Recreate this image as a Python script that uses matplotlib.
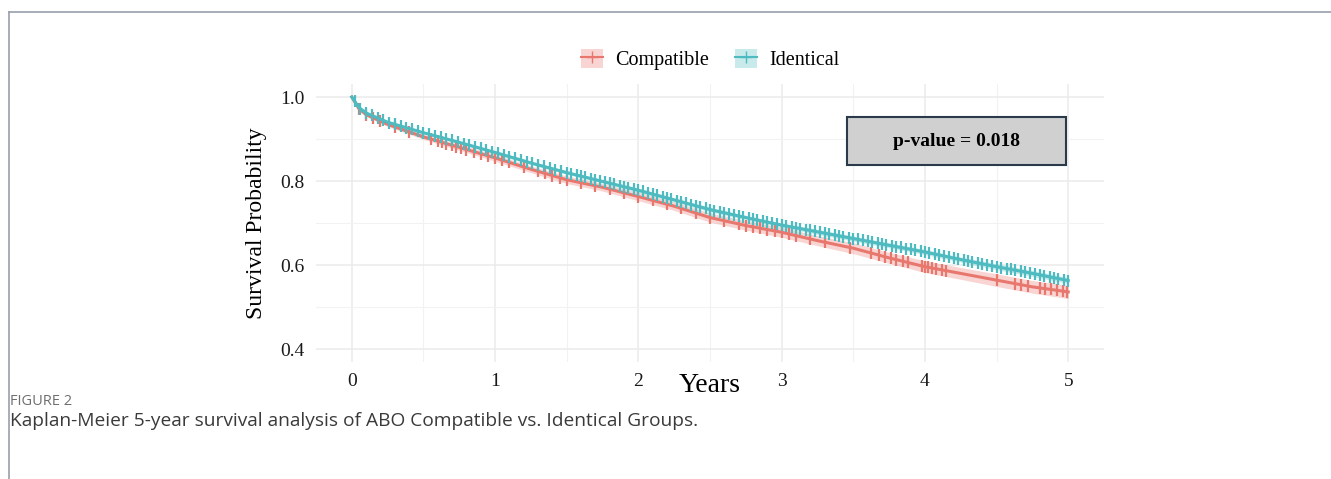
import matplotlib.pyplot as plt
import numpy as np
from matplotlib.lines import Line2D
from matplotlib.patches import Rectangle, Patch

# Kaplan-Meier kurvės (nuskaityta nuo paveikslo)
times = [0, 0.05, 0.1, 0.25, 0.5, 0.75, 1, 1.25, 1.5, 1.75, 2, 2.25, 2.5,
         2.75, 3, 3.25, 3.5, 3.75, 4, 4.25, 4.5, 4.75, 5]
identical = [1.0, 0.975, 0.962, 0.940, 0.915, 0.892, 0.868, 0.843, 0.820,
             0.799, 0.778, 0.755, 0.732, 0.713, 0.695, 0.679, 0.663, 0.647,
             0.631, 0.613, 0.596, 0.580, 0.563]
compatible = [1.0, 0.972, 0.958, 0.935, 0.905, 0.880, 0.855, 0.828, 0.803,
              0.785, 0.763, 0.740, 0.713, 0.694, 0.678, 0.658, 0.640, 0.617,
              0.596, 0.580, 0.564, 0.548, 0.536]
identical_ci = [0, 0.002, 0.002, 0.003, 0.003, 0.003, 0.004, 0.004, 0.004,
                0.004, 0.005, 0.005, 0.005, 0.005, 0.005, 0.006, 0.006, 0.006,
                0.006, 0.006, 0.007, 0.007, 0.007]
compatible_ci = [0, 0.003, 0.004, 0.005, 0.006, 0.007, 0.008, 0.008, 0.009,
                 0.009, 0.010, 0.010, 0.011, 0.011, 0.012, 0.012, 0.013, 0.013,
                 0.014, 0.014, 0.015, 0.015, 0.016]

# cenzūravimo laikai
identical_cens = [0.02, 0.06, 0.1, 0.14, 0.18, 0.22, 0.26, 0.3, 0.34, 0.38,
                  0.42, 0.46, 0.5, 0.54, 0.58, 0.62, 0.66, 0.7, 0.74, 0.78,
                  0.82, 0.86, 0.9, 0.94, 0.98, 1.02, 1.06, 1.1, 1.14, 1.18,
                  1.22, 1.26, 1.3, 1.34, 1.38, 1.42, 1.46, 1.5, 1.53, 1.57,
                  1.6, 1.63, 1.67, 1.7, 1.73, 1.77, 1.8, 1.83, 1.87, 1.9,
                  1.93, 1.97, 2.0, 2.03, 2.07, 2.1, 2.13, 2.17, 2.2, 2.23,
                  2.27, 2.3, 2.33, 2.37, 2.4, 2.43, 2.47, 2.5, 2.53, 2.57,
                  2.6, 2.63, 2.67, 2.7, 2.73, 2.77, 2.8, 2.83, 2.87, 2.9,
                  2.93, 2.97, 3.0, 3.03, 3.07, 3.1, 3.13, 3.17, 3.2, 3.23,
                  3.27, 3.3, 3.33, 3.37, 3.4, 3.43, 3.47, 3.5, 3.53, 3.57,
                  3.6, 3.63, 3.67, 3.7, 3.73, 3.77, 3.8, 3.83, 3.87, 3.9,
                  3.93, 3.97, 4.0, 4.03, 4.07, 4.1, 4.13, 4.17, 4.2, 4.23,
                  4.27, 4.3, 4.33, 4.37, 4.4, 4.43, 4.47, 4.5, 4.53, 4.57,
                  4.6, 4.63, 4.67, 4.7, 4.73, 4.77, 4.8, 4.83, 4.87, 4.9,
                  4.93, 4.97, 5.0]
compatible_cens = [0.05, 0.1, 0.15, 0.2, 0.3, 0.4, 0.55, 0.6, 0.63, 0.66,
                   0.7, 0.73, 0.76, 0.8, 0.85, 0.9, 0.95, 1.0, 1.05, 1.1,
                   1.2, 1.3, 1.35, 1.4, 1.45, 1.5, 1.6, 1.7, 1.8, 1.9, 2.0,
                   2.1, 2.2, 2.3, 2.4, 2.5, 2.6, 2.7, 2.75, 2.8, 2.85, 2.9,
                   2.95, 3.0, 3.05, 3.1, 3.2, 3.3, 3.48, 3.62, 3.68, 3.72,
                   3.76, 3.8, 3.85, 3.88, 3.98, 4.0, 4.02, 4.05, 4.08, 4.12,
                   4.15, 4.5, 4.63, 4.67, 4.72, 4.8, 4.84, 4.88, 4.92, 4.96,
                   4.99]

red = "#E8776E"
teal = "#4DBBC0"
serif = "Liberation Serif"

fig = plt.figure(figsize=(13.31, 4.79), dpi=100)
ax = fig.add_axes([0.2374, 0.245, 0.5921, 0.5788])

for y, ci, cens, col, lab in [(compatible, compatible_ci, compatible_cens, red, "Compatible"),
                              (identical, identical_ci, identical_cens, teal, "Identical")]:
    y = np.array(y)
    ci = np.array(ci)
    ax.fill_between(times, y - ci, y + ci, color=col, alpha=0.3, lw=0)
    ax.plot(times, y, color=col, lw=2.2, label=lab)
    ax.plot(cens, np.interp(cens, times, y), ls="none", marker="|",
            ms=8, mew=1.6, color=col)

ax.set_xlim(-0.25, 5.25)
ax.set_ylim(0.37, 1.03)
ax.set_xticks([0, 1, 2, 3, 4, 5])
ax.set_xticks([0.5, 1.5, 2.5, 3.5, 4.5], minor=True)
ax.set_yticks([0.4, 0.6, 0.8, 1.0])
ax.set_yticks([0.5, 0.7, 0.9], minor=True)
ax.set_yticklabels(["0.4", "0.6", "0.8", "1.0"])
ax.grid(True, which="major", color="#ebebeb", lw=1.1)
ax.grid(True, which="minor", color="#f2f2f2", lw=0.8)
ax.set_axisbelow(True)
for s in ax.spines.values():
    s.set_visible(False)
ax.tick_params(which="both", length=0)
ax.tick_params(labelsize=14, pad=8, colors="#1a1a1a")
for lbl in ax.get_xticklabels() + ax.get_yticklabels():
    lbl.set_family(serif)

ax.set_xlabel("Years", family=serif, fontsize=20, labelpad=-12)
ax.set_ylabel("Survival Probability", family=serif, fontsize=17, labelpad=10)

# p-reikšmės langelis
ax.add_patch(Rectangle((3.457, 0.838), 1.53, 0.114, facecolor="#d0d0d0",
                       edgecolor="#2b3a4a", lw=1.5, zorder=5))
ax.text(4.22, 0.895, "p-value = 0.018", family=serif, fontsize=14,
        fontweight="bold", ha="center", va="center", zorder=6)

handles = [(Patch(facecolor=red, alpha=0.3, lw=0),
            Line2D([], [], color=red, lw=1.5, marker="+", ms=9)),
           (Patch(facecolor=teal, alpha=0.3, lw=0),
            Line2D([], [], color=teal, lw=1.5, marker="+", ms=9))]
leg = ax.legend(handles, ["Compatible", "Identical"], loc="lower center",
                bbox_to_anchor=(0.5, 0.985), ncol=2, frameon=False,
                prop={"family": serif, "size": 14.5}, handlelength=1.1,
                handleheight=1.1, columnspacing=1.3, handletextpad=0.6)

# rėmelis ir antraštė
fig.add_artist(Line2D([0.0068, 0.0068], [0, 0.975], color="#9a9eab", lw=1.2))
fig.add_artist(Line2D([0.0068, 1.0], [0.975, 0.975], color="#9a9eab", lw=1.2))
fig.text(0.0075, 0.155, "FIGURE 2", family="Open Sans", fontsize=10.5,
         color="#6e6e6e")
fig.text(0.0075, 0.11, "Kaplan-Meier 5-year survival analysis of ABO Compatible vs. Identical Groups.",
         family="Open Sans", fontsize=13.8, color="#3a3a3a")

fig.savefig("out.png", dpi=100)
